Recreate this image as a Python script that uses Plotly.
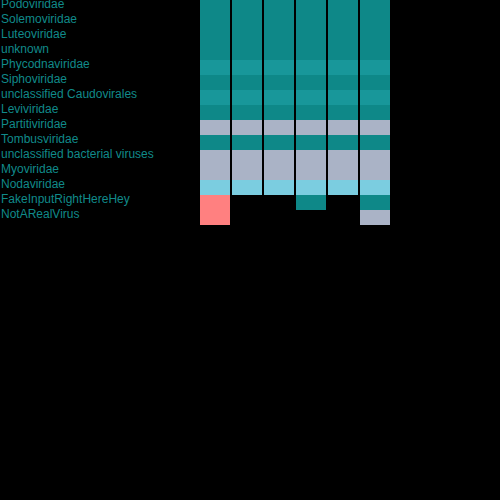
import plotly.graph_objects as go

families = ["Podoviridae", "Solemoviridae", "Luteoviridae", "unknown", "Phycodnaviridae",
            "Siphoviridae", "unclassified Caudovirales", "Leviviridae", "Partitiviridae",
            "Tombusviridae", "unclassified bacterial viruses", "Myoviridae", "Nodaviridae",
            "FakeInputRightHereHey", "NotARealVirus"]
samples = ["S1", "S2", "S3", "S4", "S5", "S6"]

# category codes per sample (0 teal, 1 light teal, 2 steel, 3 sky, 4 salmon, None = absent)
s1 = [0, 0, 0, 0, 1, 0, 1, 0, 2, 0, 2, 2, 3, 4, 4]
s2 = [0, 0, 0, 0, 1, 0, 1, 0, 2, 0, 2, 2, 3, None, None]
s3 = [0, 0, 0, 0, 1, 0, 1, 0, 2, 0, 2, 2, 3, None, None]
s4 = [0, 0, 0, 0, 1, 0, 1, 0, 2, 0, 2, 2, 3, 0, None]
s5 = [0, 0, 0, 0, 1, 0, 1, 0, 2, 0, 2, 2, 3, None, None]
s6 = [0, 0, 0, 0, 1, 0, 1, 0, 2, 0, 2, 2, 3, 0, 2]

colors = ["#0e8888", "#18979a", "#aab3c6", "#7bcde0", "#ff8080"]
label_color = "#108a8a"

cols = [s1, s2, s3, s4, s5, s6]
z = [[cols[c][r] for c in range(len(samples))] for r in range(len(families))]

n = len(colors)
colorscale = [[i / (n - 1), col] for i, col in enumerate(colors)]

fig = go.Figure(go.Heatmap(
    x=samples, y=families, z=z, zmin=0, zmax=n - 1,
    colorscale=colorscale, showscale=False, xgap=2, ygap=0,
    hoverinfo="skip",
))

for fam in families:
    fig.add_annotation(x=-200 / 192, xref="paper", xanchor="left",
                       y=fam, yref="y", yshift=4, text=fam, showarrow=False,
                       font=dict(family="Liberation Sans, Arial", size=12, color=label_color))

fig.update_xaxes(visible=False, showgrid=False, zeroline=False)
fig.update_yaxes(visible=False, showgrid=False, zeroline=False,
                 range=[len(families) - 0.5, -0.5], autorange=False)
fig.update_layout(
    width=500, height=500, autosize=False,
    margin=dict(l=199, r=109, t=0, b=275, pad=0, autoexpand=False),
    paper_bgcolor="black", plot_bgcolor="black",
    showlegend=False,
)
fig.write_html("out.html", config={"displayModeBar": False, "staticPlot": True},
               post_script="document.body.style.margin='0';document.body.style.overflow='hidden';document.body.style.background='black';")
